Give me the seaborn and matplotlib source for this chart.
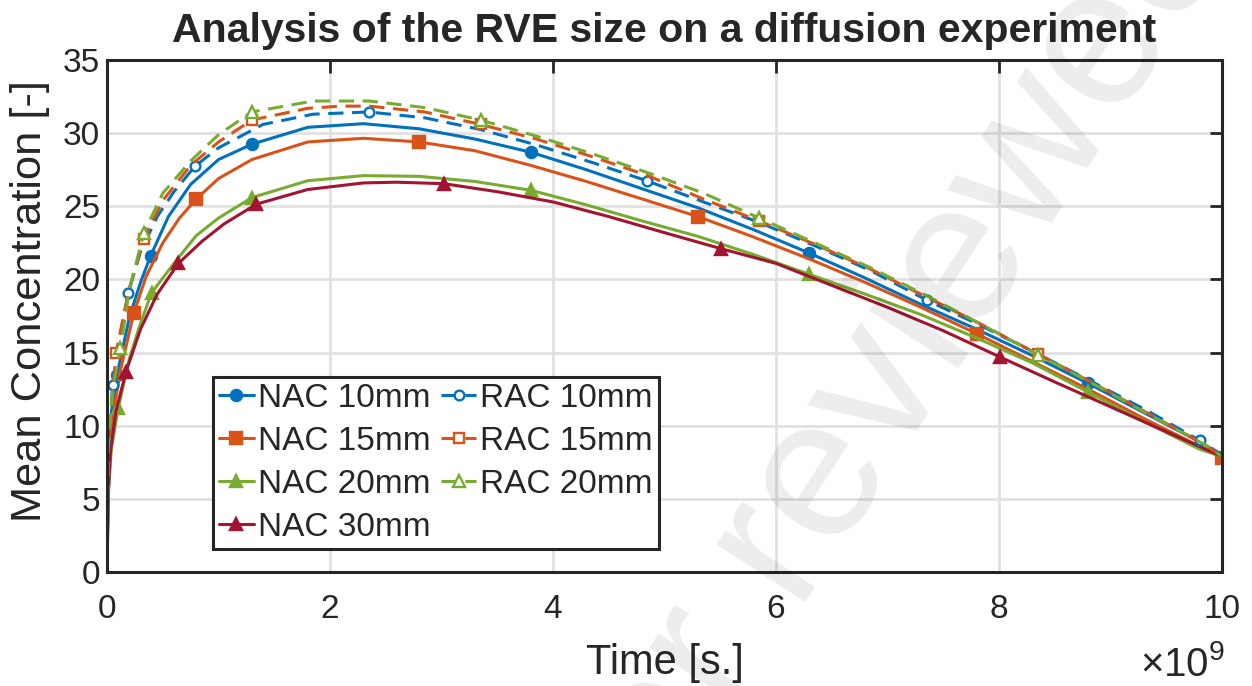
import numpy as np
import pandas as pd
import matplotlib
matplotlib.use("Agg")
import matplotlib.pyplot as plt
import seaborn as sns
from matplotlib.ticker import FuncFormatter

# ---------------- data (time in units of 1e9 s) ----------------
t_nac10 = [0, 0.01, 0.04, 0.09, 0.2, 0.3, 0.39, 0.55, 0.75, 1.0, 1.3, 1.8, 2.3, 2.8, 3.3, 3.8, 4.3, 4.8,
           5.3, 5.8, 6.3, 6.8, 7.3, 7.8, 8.3, 8.8, 9.3, 9.8, 10.0]
c_nac10 = [0, 7.0, 11.0, 13.5, 17.4, 19.8, 21.6, 24.3, 26.5, 28.2, 29.25, 30.4, 30.65, 30.3, 29.6, 28.7, 27.5,
           26.2, 24.9, 23.4, 21.8, 20.1, 18.3, 16.6, 14.8, 12.9, 10.9, 8.9, 8.0]

t_nac15 = [0, 0.01, 0.05, 0.12, 0.24, 0.35, 0.5, 0.65, 0.8, 1.0, 1.3, 1.8, 2.3, 2.8, 3.3, 3.8, 4.3, 4.8,
           5.3, 5.8, 6.3, 6.8, 7.3, 7.8, 8.3, 8.8, 9.3, 9.8, 10.0]
c_nac15 = [0, 6.5, 10.5, 13.8, 17.7, 20.2, 22.5, 24.2, 25.5, 26.9, 28.2, 29.4, 29.65, 29.4, 28.8, 27.8, 26.7,
           25.5, 24.3, 22.9, 21.4, 19.8, 18.1, 16.3, 14.4, 12.5, 10.5, 8.6, 7.8]

t_nac20 = [0, 0.01, 0.04, 0.1, 0.2, 0.3, 0.4, 0.6, 0.8, 1.0, 1.3, 1.8, 2.3, 2.8, 3.3, 3.8, 4.3, 4.8,
           5.3, 5.8, 6.3, 6.8, 7.3, 7.8, 8.3, 8.8, 9.3, 9.8, 10.0]
c_nac20 = [0, 5.5, 8.5, 11.2, 14.6, 17.0, 19.1, 21.1, 23.0, 24.2, 25.6, 26.75, 27.1, 27.05, 26.7, 26.1, 25.1,
           24.0, 22.95, 21.7, 20.35, 19.0, 17.6, 16.0, 14.3, 12.3, 10.3, 8.4, 7.9]

t_nac30 = [0, 0.01, 0.03, 0.08, 0.17, 0.3, 0.45, 0.64, 0.85, 1.05, 1.34, 1.8, 2.3, 2.6, 3.02, 3.5, 4.0, 4.5,
           5.0, 5.51, 6.0, 6.5, 7.0, 7.5, 8.01, 8.5, 9.0, 9.5, 10.0]
c_nac30 = [0, 5.0, 8.2, 11.0, 13.7, 16.6, 19.0, 21.1, 22.6, 23.8, 25.15, 26.15, 26.6, 26.65, 26.55, 26.0, 25.3,
           24.3, 23.2, 22.1, 21.1, 19.6, 18.1, 16.5, 14.7, 13.0, 11.3, 9.6, 7.9]

t_rac10 = [0, 0.01, 0.05, 0.12, 0.19, 0.3, 0.45, 0.6, 0.79, 1.0, 1.4, 1.85, 2.35, 2.85, 3.35, 3.85, 4.35, 4.84,
           5.35, 5.85, 6.35, 6.85, 7.35, 7.85, 8.35, 8.85, 9.35, 9.8, 10.0]
c_rac10 = [0, 8.0, 12.8, 16.3, 19.05, 21.9, 24.3, 26.0, 27.75, 29.0, 30.6, 31.3, 31.45, 31.05, 30.25, 29.2, 28.0,
           26.75, 25.3, 23.9, 22.3, 20.6, 18.6, 16.8, 14.9, 12.95, 10.95, 9.0, 8.0]

t_rac15 = [0, 0.01, 0.08, 0.2, 0.33, 0.5, 0.75, 1.0, 1.3, 1.8, 2.1, 2.35, 2.85, 3.35, 3.85, 4.35, 4.85, 5.35,
           5.85, 6.35, 6.85, 7.35, 7.85, 8.35, 8.85, 9.35, 9.85, 10.0]
c_rac15 = [0, 8.5, 15.0, 19.4, 22.8, 25.4, 27.8, 29.4, 30.9, 31.7, 31.85, 31.85, 31.45, 30.6, 29.6, 28.4, 27.1,
           25.5, 24.0, 22.4, 20.7, 18.8, 16.9, 14.9, 12.9, 10.8, 8.7, 7.9]

t_rac20 = [0, 0.01, 0.05, 0.12, 0.2, 0.33, 0.5, 0.75, 1.0, 1.3, 1.85, 2.35, 2.85, 3.35, 3.85, 4.35, 4.85, 5.35,
           5.85, 6.35, 6.85, 7.35, 7.85, 8.35, 8.85, 9.35, 9.85, 10.0]
c_rac20 = [0, 8.5, 12.5, 15.3, 19.3, 23.2, 25.9, 28.1, 29.9, 31.45, 32.2, 32.2, 31.75, 30.9, 29.8, 28.6, 27.3,
           25.9, 24.2, 22.5, 20.8, 18.9, 16.9, 14.85, 12.85, 10.75, 8.7, 7.9]

labels = ["NAC 10mm", "NAC 15mm", "NAC 20mm", "NAC 30mm", "RAC 10mm", "RAC 15mm", "RAC 20mm"]
title = "Analysis of the RVE size on a diffusion experiment"
xlabel = "Time [s.]"
ylabel = "Mean Concentration [-]"
x_ticks = [0, 2e9, 4e9, 6e9, 8e9, 10e9]
y_ticks = [0, 5, 10, 15, 20, 25, 30, 35]
x_exponent = 9
watermark = "peer reviewed"

# ---------------- styling ----------------
sns.set_style("white")
plt.rcParams["font.family"] = ["Liberation Sans", "DejaVu Sans"]
plt.rcParams["mathtext.fontset"] = "custom"
plt.rcParams["mathtext.rm"] = "Liberation Sans"
plt.rcParams["mathtext.it"] = "Liberation Sans:italic"
plt.rcParams["mathtext.bf"] = "Liberation Sans:bold"

blue, orange, green, red = "#0072BD", "#D95319", "#77AC30", "#A2142F"

series = [
    (t_nac10, c_nac10, blue, "-", "o", [3, 6, 10, 15, 20, 25], True),
    (t_nac15, c_nac15, orange, "-", "s", [4, 8, 13, 18, 23, 28], True),
    (t_nac20, c_nac20, green, "-", "^", [3, 6, 10, 15, 20, 25], True),
    (t_nac30, c_nac30, red, "-", "^", [4, 7, 10, 14, 19, 24], True),
    (t_rac10, c_rac10, blue, "--", "o", [2, 4, 8, 12, 17, 22, 27], False),
    (t_rac15, c_rac15, orange, "--", "s", [2, 4, 8, 13, 18, 23], False),
    (t_rac20, c_rac20, green, "--", "^", [3, 5, 9, 13, 18, 23], False),
]

fig = plt.figure(figsize=(12.52, 6.86), dpi=100)
ax = fig.add_axes([0.0855, 0.166, 0.8905, 0.7465])

for (t, c, col, ls, mk, mev, filled), lab in zip(series, labels):
    df = pd.DataFrame({"t": np.array(t) * 1e9, "c": c})
    kw = dict(color=col, linewidth=2.2, marker=mk, markevery=mev, label=lab,
              markeredgecolor=col, markeredgewidth=1.7)
    if filled:
        kw.update(markerfacecolor=col, markersize=8 if mk != "^" else 9)
    else:
        kw.update(markerfacecolor="white", markersize=7 if mk != "^" else 8)
    sns.lineplot(data=df, x="t", y="c", ax=ax, estimator=None, sort=False, **kw)
    ln = ax.get_lines()[-1]
    if ls == "--":
        ln.set_dashes([5.0, 2.8])

ax.set_xlim(0, 10e9)
ax.set_ylim(0, 35)
ax.set_xticks(x_ticks)
ax.set_yticks(y_ticks)
ax.xaxis.set_major_formatter(FuncFormatter(lambda v, p: f"{v / 10**x_exponent:g}"))
ax.text(1.003, -0.218, r"$\times\mathregular{10^{%d}}$" % x_exponent, transform=ax.transAxes,
        ha="right", va="bottom", fontsize=29)

ax.grid(True, color="#e1e1e1", linewidth=2.0, zorder=0)
ax.set_axisbelow(True)
for sp in ax.spines.values():
    sp.set_visible(True)
    sp.set_color("#262626")
    sp.set_linewidth(2.2)
ax.tick_params(axis="both", which="major", direction="in", length=9, width=2.0,
               color="#262626", labelsize=24, top=True, right=True)
ax.tick_params(axis="x", pad=16)
ax.tick_params(axis="y", pad=5)

ax.set_xlabel(xlabel, fontsize=30, labelpad=13)
ax.set_ylabel(ylabel, fontsize=31.2)
ax.yaxis.set_label_coords(-0.051, 0.529)
ax.set_title(title, fontsize=29.5, fontweight="bold", pad=13)

leg = ax.legend(ncol=2, loc="lower left", bbox_to_anchor=(0.095, 0.045), borderaxespad=0,
                fontsize=24, frameon=True, fancybox=False, framealpha=1, edgecolor="#262626",
                handlelength=1.05, handletextpad=0.12, columnspacing=0.32, labelspacing=0.36,
                borderpad=0.18)
leg.get_frame().set_linewidth(2.2)

fig.text(0.679, 0.359, watermark, rotation=57, fontsize=145, color="black", alpha=0.075,
         ha="center", va="center", zorder=10)

fig.savefig("out.png", dpi=100)
